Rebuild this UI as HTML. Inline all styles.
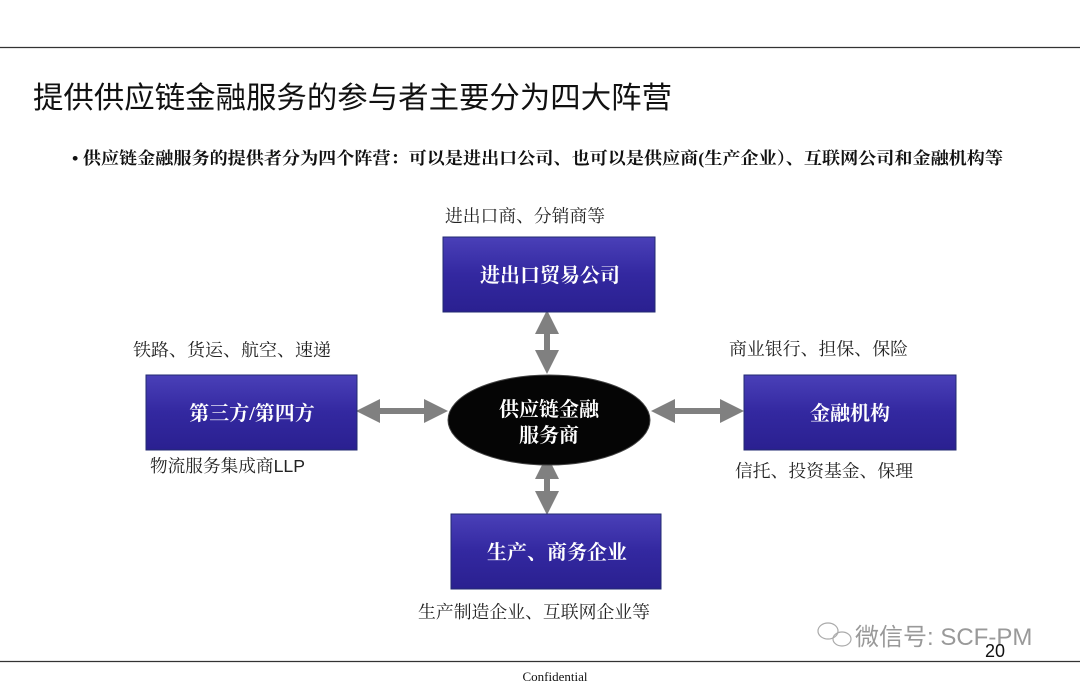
<!DOCTYPE html>
<html><head><meta charset="utf-8"><style>
html,body{margin:0;padding:0;background:#fff;width:1080px;height:683px;overflow:hidden}
svg text{font-family:"Liberation Serif","Noto Serif CJK SC",serif}
</style></head><body>
<svg width="1080" height="683" viewBox="0 0 1080 683" xmlns="http://www.w3.org/2000/svg">
<defs>
<linearGradient id="bx" x1="0" y1="0" x2="0" y2="1">
<stop offset="0" stop-color="#4a40b8"/><stop offset="0.5" stop-color="#3328a0"/><stop offset="1" stop-color="#2a2090"/>
</linearGradient>
<marker id="ah" viewBox="0 0 10 10" refX="5" refY="5" markerWidth="4" markerHeight="4" orient="auto-start-reverse" markerUnits="strokeWidth">
<path d="M0,0 L10,5 L0,10 z" fill="#808080"/>
</marker>
</defs>
<line x1="0" y1="47.5" x2="1080" y2="47.5" stroke="#333" stroke-width="1.2"/>
<text x="33" y="108" font-size="30" textLength="639" lengthAdjust="spacingAndGlyphs" fill="#111" style="font-family:'Liberation Sans','Noto Sans CJK SC',sans-serif">提供供应链金融服务的参与者主要分为四大阵营</text>
<text x="72" y="164" font-size="17" font-weight="bold" textLength="931" lengthAdjust="spacingAndGlyphs" fill="#111">• 供应链金融服务的提供者分为四个阵营：可以是进出口公司、也可以是供应商(生产企业）、互联网公司和金融机构等</text>

<g stroke="#808080" stroke-width="6" fill="none">
<line x1="547" y1="322" x2="547" y2="362" marker-start="url(#ah)" marker-end="url(#ah)"/>
<line x1="547" y1="467" x2="547" y2="503" marker-start="url(#ah)" marker-end="url(#ah)"/>
<line x1="368" y1="411" x2="436" y2="411" marker-start="url(#ah)" marker-end="url(#ah)"/>
<line x1="663" y1="411" x2="732" y2="411" marker-start="url(#ah)" marker-end="url(#ah)"/>
</g>

<g fill="url(#bx)" stroke="#222a70" stroke-width="1">
<rect x="443" y="237" width="212" height="75"/>
<rect x="146" y="375" width="211" height="75"/>
<rect x="744" y="375" width="212" height="75"/>
<rect x="451" y="514" width="210" height="75"/>
</g>
<ellipse cx="549" cy="420" rx="101" ry="45" fill="#050505" stroke="#444" stroke-width="1"/>

<g fill="#fff" font-size="20" font-weight="bold" text-anchor="middle">
<text x="550" y="282">进出口贸易公司</text>
<text x="252" y="420">第三方/第四方</text>
<text x="850" y="420">金融机构</text>
<text x="557" y="559">生产、商务企业</text>
<text x="549" y="416">供应链金融</text>
<text x="549" y="442">服务商</text>
</g>

<g fill="#222" font-size="17.5">
<text x="445" y="222" textLength="160" lengthAdjust="spacingAndGlyphs">进出口商、分销商等</text>
<text x="133" y="356" textLength="198" lengthAdjust="spacingAndGlyphs">铁路、货运、航空、速递</text>
<text x="150" y="472" textLength="155" lengthAdjust="spacingAndGlyphs">物流服务集成商<tspan style="font-family:'Liberation Sans',sans-serif">LLP</tspan></text>
<text x="729" y="355" textLength="179" lengthAdjust="spacingAndGlyphs">商业银行、担保、保险</text>
<text x="735" y="477" textLength="178" lengthAdjust="spacingAndGlyphs">信托、投资基金、保理</text>
<text x="418" y="618" textLength="232" lengthAdjust="spacingAndGlyphs">生产制造企业、互联网企业等</text>
</g>

<g fill="none" stroke="#aaa" stroke-width="1.2">
<ellipse cx="828" cy="631" rx="10" ry="8"/>
<ellipse cx="842" cy="639" rx="9" ry="7"/>
</g>
<text x="855" y="645" font-size="24" fill="#999" style="font-family:'Liberation Sans','Noto Sans CJK SC',sans-serif">微信号: SCF-PM</text>
<text x="985" y="657" font-size="18" fill="#111" style="font-family:'Liberation Sans',sans-serif">20</text>

<line x1="0" y1="661.5" x2="1080" y2="661.5" stroke="#333" stroke-width="1.2"/>
<text x="555" y="681" font-size="13" text-anchor="middle" fill="#111">Confidential</text>
</svg>
</body></html>
